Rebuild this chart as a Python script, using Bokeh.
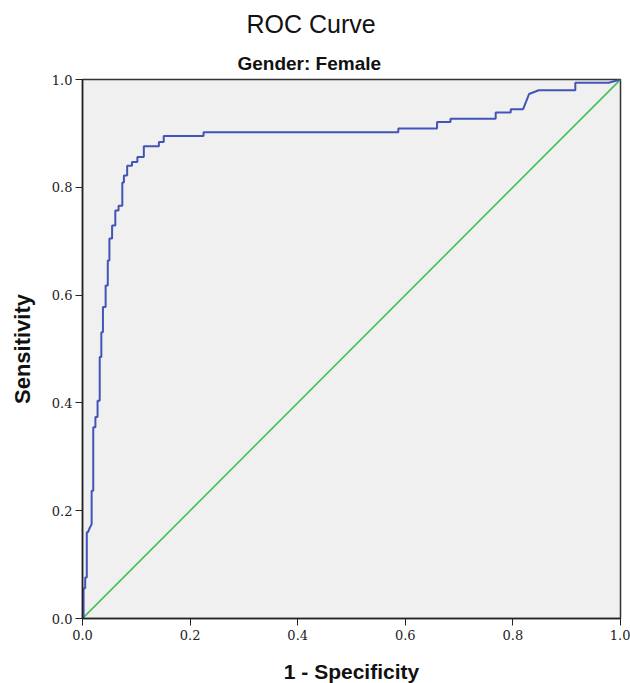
from bokeh.plotting import figure
from bokeh.models import Title, FixedTicker, CustomJSTickFormatter
from bokeh.embed import file_html
from bokeh.resources import INLINE

# ROC curve vertices (1 - specificity, sensitivity)
fpr = [0.0, 0.002, 0.002, 0.005, 0.005, 0.008, 0.008, 0.010, 0.013, 0.017, 0.017, 0.020, 0.020,
       0.024, 0.024, 0.028, 0.028, 0.032, 0.032, 0.035, 0.035, 0.038, 0.038, 0.043, 0.043,
       0.047, 0.047, 0.050, 0.050, 0.055, 0.055, 0.061, 0.061, 0.067, 0.067, 0.074, 0.074,
       0.077, 0.077, 0.083, 0.083, 0.092, 0.092, 0.102, 0.102, 0.114, 0.114, 0.142, 0.142,
       0.151, 0.151, 0.225, 0.225, 0.587, 0.587, 0.659, 0.659, 0.684, 0.684, 0.768, 0.768,
       0.796, 0.796, 0.819, 0.830, 0.848, 0.916, 0.916, 0.978, 1.0]
tpr = [0.0, 0.0, 0.056, 0.056, 0.076, 0.076, 0.160, 0.160, 0.167, 0.175, 0.237, 0.237, 0.355,
       0.355, 0.374, 0.374, 0.404, 0.404, 0.485, 0.485, 0.531, 0.531, 0.578, 0.578, 0.618,
       0.618, 0.664, 0.664, 0.705, 0.705, 0.729, 0.729, 0.757, 0.757, 0.766, 0.766, 0.809,
       0.809, 0.822, 0.822, 0.840, 0.840, 0.847, 0.847, 0.856, 0.856, 0.876, 0.876, 0.884,
       0.884, 0.895, 0.895, 0.902, 0.902, 0.909, 0.909, 0.921, 0.921, 0.927, 0.927, 0.939,
       0.939, 0.945, 0.945, 0.973, 0.980, 0.980, 0.994, 0.994, 1.0]
ref_x = [0.0, 1.0]
ref_y = [0.0, 1.0]
ticks = [0.0, 0.2, 0.4, 0.6, 0.8, 1.0]
title_text = "ROC Curve"
subtitle_text = "Gender: Female"

p = figure(frame_width=538, frame_height=539, x_range=(0, 1), y_range=(0, 1),
           output_backend="svg", toolbar_location=None,
           min_border_left=82, min_border_right=10, min_border_top=79, min_border_bottom=65,
           background_fill_color="#f0f0f0", border_fill_color="white")

p.add_layout(Title(text=subtitle_text, align="left", offset=155, text_font="Liberation Sans",
                   text_font_size="19px", text_font_style="bold", text_color="#111111",
                   vertical_align="top", standoff=7), "above")
p.add_layout(Title(text=title_text, align="left", offset=164, text_font="Liberation Sans",
                   text_font_size="25px", text_font_style="normal", text_color="#111111",
                   vertical_align="top", standoff=19), "above")

p.grid.visible = False
p.outline_line_color = "#333333"
p.outline_line_width = 1.5

fmt = CustomJSTickFormatter(code="return tick.toFixed(1);")
for ax in (p.xaxis[0], p.yaxis[0]):
    ax.ticker = FixedTicker(ticks=ticks)
    ax.formatter = fmt
    ax.minor_tick_line_color = None
    ax.major_tick_in = 0
    ax.major_tick_out = 7
    ax.major_tick_line_color = "#222222"
    ax.axis_line_color = "#222222"
    ax.axis_line_width = 1.5
    ax.major_label_text_font = "DejaVu Serif"
    ax.major_label_text_font_size = "13px"
    ax.major_label_text_color = "#222222"
    ax.axis_label_text_font = "Liberation Sans"
    ax.axis_label_text_font_style = "bold"
    ax.axis_label_text_color = "#111111"

p.xaxis[0].axis_label = "1 - Specificity"
p.yaxis[0].axis_label = "Sensitivity"
p.xaxis[0].axis_label_text_font_size = "21px"
p.yaxis[0].axis_label_text_font_size = "22px"
p.xaxis[0].major_label_standoff = 4
p.xaxis[0].axis_label_standoff = 17
p.yaxis[0].major_label_standoff = 3
p.yaxis[0].axis_label_standoff = 14

p.line(ref_x, ref_y, line_color="#44c053", line_width=1.6)
p.line(fpr, tpr, line_color="#4254b8", line_width=2.0)

open("out.html", "w").write(file_html(p, INLINE))
